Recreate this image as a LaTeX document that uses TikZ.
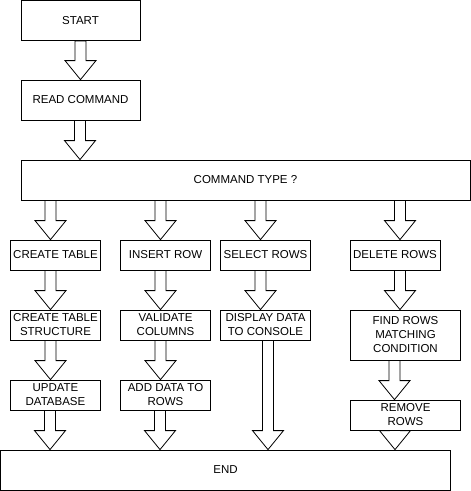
\documentclass[tikz,border=0pt]{standalone}
\usepackage{fontspec}
\setmainfont{Liberation Sans}
\usetikzlibrary{calc,backgrounds}
\tikzset{
  box/.style={draw=black, line width=0.8pt, fill=white, rectangle, inner sep=0pt,
    align=center, font=\fontsize{11.5}{14}\selectfont},
  flex/.style={draw=black, line width=0.8pt, fill=white, line join=miter},
}
\newcommand\farrow[3]{%
  \draw[flex] let \p1=(#1.south), \p2=($(#2.north)+(#3pt,0)$) in
    (\x2-5.5pt,\y1) -- (\x2-5.5pt,\y2+19pt) -- (\x2-15.5pt,\y2+19pt) -- (\x2,\y2)
    -- (\x2+15.5pt,\y2+19pt) -- (\x2+5.5pt,\y2+19pt) -- (\x2+5.5pt,\y1) -- cycle;}
\begin{document}
\begin{tikzpicture}[x=1pt,y=-1pt]
\useasboundingbox (0,0) rectangle (471,491);
% nodes
\node[box, minimum width=119pt, minimum height=40pt] (start) at (80.5,20.5) {START};
\node[box, minimum width=119pt, minimum height=40pt] (read) at (80.5,100) {READ COMMAND};
\node[box, minimum width=449pt, minimum height=40pt] (cmd) at (245.5,180) {COMMAND TYPE ?};
\node[box, minimum width=90pt, minimum height=30pt] (ct) at (55.5,255) {CREATE TABLE};
\node[box, minimum width=90pt, minimum height=30pt] (ir) at (165.5,255) {INSERT ROW};
\node[box, minimum width=90pt, minimum height=30pt] (sr) at (265.5,255) {SELECT ROWS};
\node[box, minimum width=90pt, minimum height=30pt] (dr) at (395,255) {DELETE ROWS};
\node[box, minimum width=90pt, minimum height=30pt] (cts) at (55.5,325) {CREATE TABLE\\STRUCTURE};
\node[box, minimum width=90pt, minimum height=30pt] (vc) at (165.5,325) {VALIDATE\\COLUMNS};
\node[box, minimum width=90pt, minimum height=30pt] (dd) at (265.5,325) {DISPLAY DATA\\TO CONSOLE};
\node[box, minimum width=110pt, minimum height=50pt] (fr) at (405.5,335) {FIND ROWS\\MATCHING\\CONDITION};
\node[box, minimum width=90pt, minimum height=30pt] (ud) at (55.5,395) {UPDATE\\DATABASE};
\node[box, minimum width=90pt, minimum height=30pt] (ad) at (165.5,395) {ADD DATA TO\\ROWS};
\node[box, minimum width=110pt, minimum height=30pt] (rr) at (405.5,415) {REMOVE\\ROWS};
\node[box, minimum width=450pt, minimum height=40pt] (end) at (225.5,470) {END};
% arrows
\begin{scope}[on background layer]
\farrow{start}{read}{0}
\farrow{read}{cmd}{-165.5}
\farrow{cmd}{ct}{-5}
\farrow{cmd}{ir}{-5}
\farrow{cmd}{sr}{-5}
\farrow{cmd}{dr}{5}
\farrow{ct}{cts}{-5}
\farrow{ir}{vc}{-5}
\farrow{sr}{dd}{-5}
\farrow{dr}{fr}{-5.5}
\farrow{cts}{ud}{-5}
\farrow{vc}{ad}{-5}
\farrow{dd}{end}{42.5}
\farrow{fr}{rr}{-11}
\farrow{ud}{end}{-175.5}
\farrow{ad}{end}{-65.5}
\farrow{rr}{end}{169.5}
\end{scope}
\end{tikzpicture}
\end{document}
